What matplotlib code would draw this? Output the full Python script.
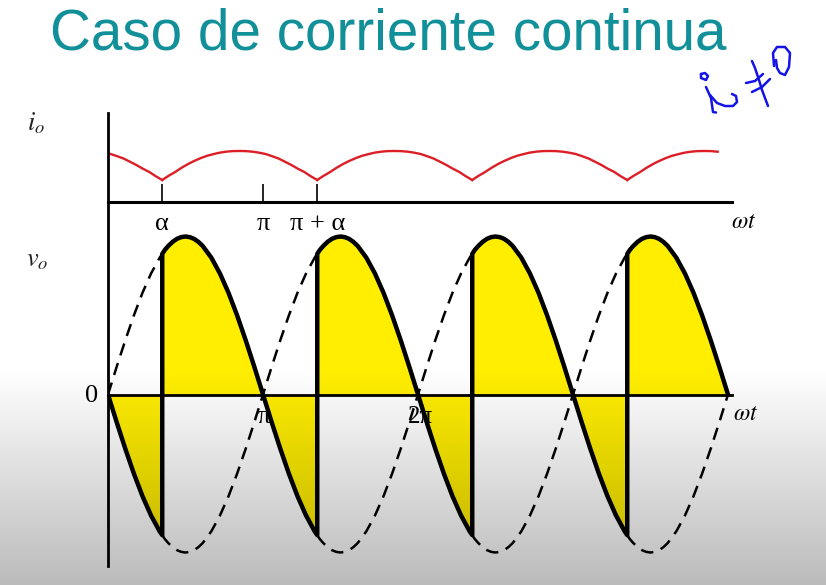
import numpy as np
import matplotlib
matplotlib.use('Agg')
import matplotlib.pyplot as plt

plt.rcParams['mathtext.fontset'] = 'stix'
plt.rcParams['font.family'] = ['Liberation Serif', 'DejaVu Serif']

W, H = 826, 585
LEFT, RIGHT, AXIS_TOP, AXIS_MID, AXIS_BOT, I_TOP = 108, 732, 202, 394.5, 566, 113

# one conduction interval of vo (wt in degrees, vo/Vm)
vo_deg = [63, 66, 70, 75, 80, 85, 90, 95, 100, 105, 110, 120, 130, 140, 150, 160, 170, 180,
          190, 200, 210, 220, 230, 240, 243]
vo_val = [0.89, 0.915, 0.94, 0.966, 0.985, 0.996, 1.0, 0.996, 0.985, 0.966, 0.94, 0.866, 0.766,
          0.643, 0.5, 0.342, 0.174, 0.0,
          -0.174, -0.342, -0.5, -0.643, -0.766, -0.866, -0.89]

# one arc of io (height above the axis)
io_deg = [63, 70, 78, 85, 93, 100, 108, 115, 123, 130, 138, 145, 153, 160, 168, 175, 183,
          190, 198, 205, 213, 220, 228, 235, 243]
io_val = [22, 26, 30, 34, 38, 41, 44, 46.2, 48, 49.4, 50.4, 50.9, 51, 50.9, 50.3, 49.4, 48,
          46, 43.5, 40.5, 37, 33.5, 30, 26, 22]

repeats = [-180, 0, 180, 360, 540]
vo_end = 720
io_end = 710

tick_pos = [63, 180, 243]
tick_lab = ['α', 'π', 'π + α']

# handwritten note, pixel coordinates of the ink
ink_strokes = [
    ([701, 701, 706, 708, 705, 701], [74, 78, 80, 76, 73, 74]),
    ([706, 711, 713, 716], [87, 98, 112, 112.5]),
    ([710, 717, 725, 733, 737, 736, 732], [95, 103, 106, 106, 102, 96, 94]),
    ([752, 755, 759, 762, 765, 768], [61, 68, 80, 90, 98, 106]),
    ([746, 755, 763], [83, 81, 74]),
    ([752, 762, 770], [92, 87, 79]),
    ([774, 773, 777, 785, 790, 789, 785, 780, 777, 776], [66, 53, 47, 47, 53, 67, 75, 73, 68, 60]),
]

vo_deg = np.array(vo_deg, dtype=float)
vo_val = np.array(vo_val)
io_deg = np.array(io_deg, dtype=float)
io_val = np.array(io_val)

fig = plt.figure(figsize=(W / 100, H / 100), dpi=100)
xmax = (RIGHT - LEFT) / 155 * 180

ax_v = fig.add_axes([LEFT / W, 1 - AXIS_BOT / H, (RIGHT - LEFT) / W, (AXIS_BOT - AXIS_TOP) / H])
ax_i = fig.add_axes([LEFT / W, 1 - AXIS_TOP / H, (RIGHT - LEFT) / W, (AXIS_TOP - I_TOP) / H])

# vo
solid_x, solid_y = [], []
for off in repeats:
    x = vo_deg + off
    keep = (x >= 0) & (x <= vo_end)
    solid_x.append(x[keep])
    solid_y.append(vo_val[keep])
    ax_v.plot(x[keep], -vo_val[keep], color='k', lw=1.8, dashes=(5, 3.2), zorder=2)
solid_x = np.concatenate(solid_x)
solid_y = np.concatenate(solid_y)
ax_v.fill_between(solid_x, solid_y, 0, color='#FFEE00', lw=0, zorder=1)
ax_v.plot(solid_x, solid_y, color='k', lw=3.2, zorder=3, solid_joinstyle='round')

ax_v.set_xlim(0, xmax)
ax_v.set_ylim((AXIS_MID - AXIS_BOT) / 158, (AXIS_MID - AXIS_TOP) / 158)
ax_v.spines['top'].set_visible(False)
ax_v.spines['right'].set_visible(False)
ax_v.spines['bottom'].set_position('zero')
ax_v.spines['bottom'].set_linewidth(2)
ax_v.spines['left'].set_linewidth(2)
ax_v.spines['bottom'].set_zorder(4)
ax_v.set_xticks([])
ax_v.set_yticks([])
ax_v.patch.set_alpha(0)

# io
for off in repeats:
    x = io_deg + off
    keep = (x >= 0) & (x <= io_end)
    ax_i.plot(x[keep], io_val[keep], color='#DC1F26', lw=1.7)
ax_i.set_xlim(0, xmax)
ax_i.set_ylim(0, AXIS_TOP - I_TOP)
ax_i.spines['top'].set_visible(False)
ax_i.spines['right'].set_visible(False)
ax_i.spines['bottom'].set_linewidth(2.2)
ax_i.spines['left'].set_linewidth(2)
ax_i.set_yticks([])
ax_i.set_xticks(tick_pos, tick_lab, fontsize=19)
ax_i.tick_params(axis='x', direction='in', length=13, width=1.2, pad=8)
ax_i.patch.set_alpha(0)

# page layer in pixels: title, labels, ink, grey shading
ax_p = fig.add_axes([0, 0, 1, 1], zorder=5)
ax_p.patch.set_alpha(0)
ax_p.set_axis_off()

shade = np.zeros((256, 2, 4))
shade[:, :, 3] = np.linspace(0, 0.27, 256)[:, None]
ax_p.imshow(shade, extent=(0, W, H, 368), aspect='auto', interpolation='bilinear', zorder=1)
ax_p.set_xlim(0, W)
ax_p.set_ylim(H, 0)

ax_p.text(388, 50, 'Caso de corriente continua', family='Liberation Sans', fontsize=40.8,
          color='#12909A', ha='center', va='baseline', zorder=3)
ax_p.text(36, 123, r'$i_o$', fontsize=19, color='#222222', ha='center', va='center', zorder=3)
ax_p.text(37, 261, r'$v_o$', fontsize=19, color='#222222', ha='center', va='center', zorder=3)
ax_p.text(744, 222, r'$\omega t$', fontsize=17, ha='center', va='center', zorder=3)
ax_p.text(746, 415, r'$\omega t$', fontsize=17, ha='center', va='center', zorder=3)
ax_p.text(92, 396, '0', fontsize=19, ha='center', va='center', zorder=3)
ax_p.text(264, 417, 'π', fontsize=18, ha='center', va='center', zorder=3)
ax_p.text(420, 417, '2π', fontsize=18, ha='center', va='center', zorder=3)

for xs, ys in ink_strokes:
    ax_p.plot(xs, ys, color='#1414E6', lw=1.8, solid_capstyle='round', zorder=3)

fig.savefig('out.png', dpi=100)
